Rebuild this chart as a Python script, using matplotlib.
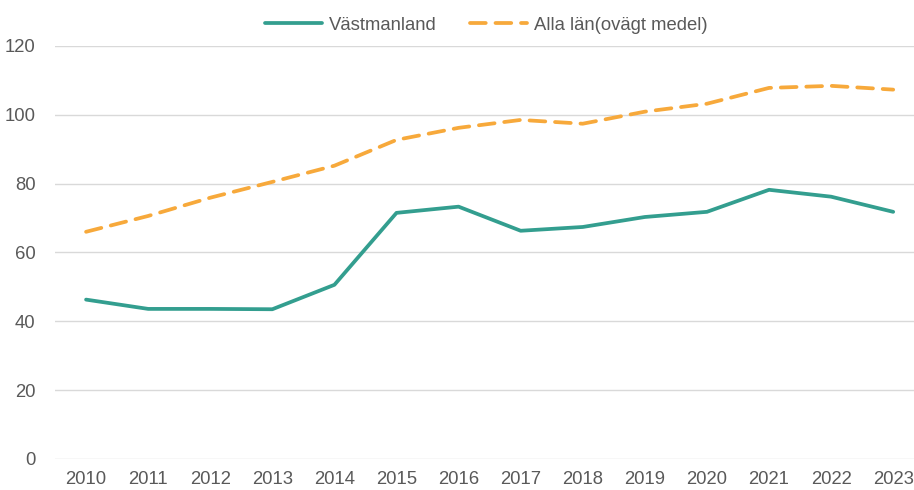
import matplotlib
matplotlib.use("Agg")
import matplotlib.pyplot as plt

years = list(range(2010, 2024))
vastmanland = [46.3, 43.6, 43.6, 43.5, 50.6, 71.5, 73.3, 66.3, 67.4, 70.3, 71.8, 78.2, 76.2, 71.8]
alla_lan = [66.0, 70.6, 75.9, 80.5, 85.2, 92.7, 96.2, 98.5, 97.4, 100.9, 103.2, 107.8, 108.4, 107.3]
y_ticks = [0, 20, 40, 60, 80, 100, 120]

plt.rcParams["font.family"] = ["Liberation Sans", "DejaVu Sans"]

fig = plt.figure(figsize=(9.14, 4.9), dpi=100)
ax = fig.add_axes([0.0602, 0.0633, 0.951, 0.843])

ax.plot(years, vastmanland, color="#339E8F", linewidth=2.7, label="Västmanland",
        solid_capstyle="round", solid_joinstyle="round")
ax.plot(years, alla_lan, color="#F7A93B", linewidth=2.7, label="Alla län(ovägt medel)",
        dashes=(4.2, 2.6), dash_capstyle="round")

ax.set_xlim(2009.5, 2023.5)
ax.set_ylim(0, 120)
ax.set_xticks(years)
ax.set_yticks(y_ticks)
ax.grid(axis="y", color="#D9D9D9", linewidth=1)
ax.set_axisbelow(True)
for side in ax.spines.values():
    side.set_visible(False)
ax.tick_params(axis="both", length=0, labelsize=13.3, colors="#595959", pad=9)
ax.tick_params(axis="y", pad=14)

fig.legend(loc="upper center", bbox_to_anchor=(0.532, 1.0), ncol=2, frameon=False,
           fontsize=13.3, handlelength=3.1, handletextpad=0.35, columnspacing=1.8,
           labelcolor="#595959")

fig.savefig("out.png", dpi=100)
